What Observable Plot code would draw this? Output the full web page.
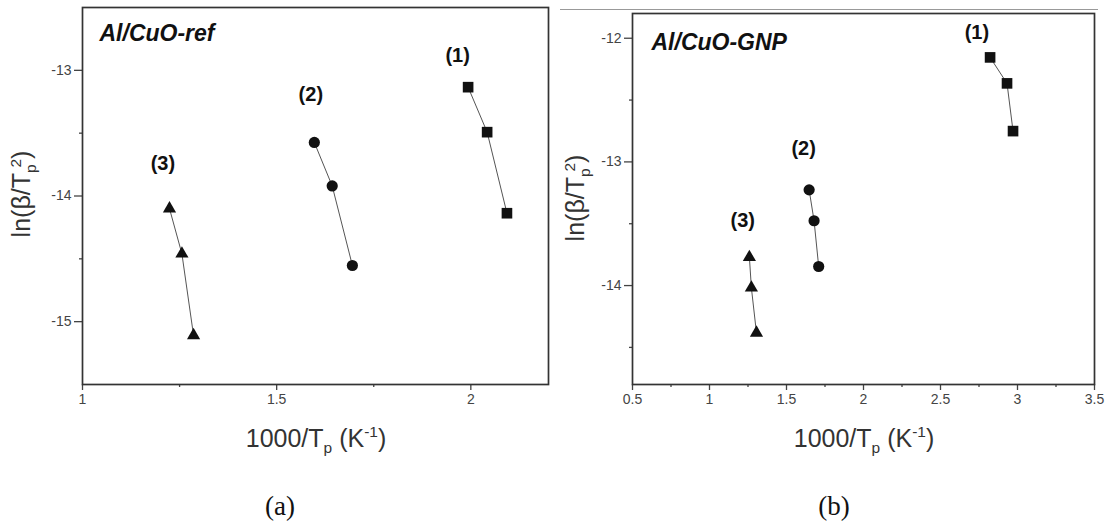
<!DOCTYPE html>
<html>
<head>
<meta charset="utf-8">
<script src="https://cdn.jsdelivr.net/npm/d3@7"></script>
<script src="https://cdn.jsdelivr.net/npm/@observablehq/plot@0.6"></script>
<style>
  html, body { margin: 0; padding: 0; background: #fff; }
  #root { position: relative; width: 1112px; height: 523px; overflow: hidden; background: #fff;
          font-family: "Liberation Sans", Arial, sans-serif; }
  .panel { position: absolute; top: 0; }
  #root svg g[aria-label*="tick label"], #root svg g[aria-label*="tick label"] text { font-size: 14px; }
  .axlab { position: absolute; font-size: 25px; color: #333; white-space: nowrap; line-height: 1; }
  .ylab { transform: translate(-50%, -50%) rotate(-90deg); }
  .xlab { transform: translate(-50%, -50%); }
  .cap { position: absolute; font-family: "Liberation Serif", "DejaVu Serif", serif; font-size: 27px;
         color: #111; transform: translate(-50%, -50%); line-height: 1; }
  .stack { display: inline-block; vertical-align: -0.38em; line-height: 0.95; font-size: 0.62em; text-align: left; }
  .stack span { display: block; }
  .stack span.sp { padding-left: 0.35em; }
  sub.s, sup.s { font-size: 0.62em; line-height: 0; }
  .topline { position: absolute; left: 560px; top: 9px; width: 538px; height: 1px; background: #999; }
</style>
</head>
<body>
<div id="root">
  <div class="topline"></div>
</div>
<script>
// ---------- data ----------
const seriesNames = ["(1)", "(2)", "(3)"];
const seriesSymbols = ["square", "circle", "triangle"];

// Panel (a): Al/CuO-ref
const titleA = "Al/CuO-ref";
const xA1 = [1.993, 2.042, 2.093];
const yA1 = [-13.134, -13.492, -14.137];
const xA2 = [1.597, 1.643, 1.695];
const yA2 = [-13.574, -13.920, -14.553];
const xA3 = [1.224, 1.256, 1.286];
const yA3 = [-14.10, -14.46, -15.11];
const labelXA = [1.966, 1.588, 1.207];
const labelYA = [-12.882, -13.192, -13.739];
const xDomainA = [1, 2.2];
const yDomainA = [-15.5, -12.5];
const xMajorA = [1, 1.5, 2];
const xMinorA = [1.25, 1.75];
const yMajorA = [-13, -14, -15];
const yMinorA = [-13.5, -14.5];

// Panel (b): Al/CuO-GNP
const titleB = "Al/CuO-GNP";
const xB1 = [2.822, 2.932, 2.971];
const yB1 = [-12.155, -12.365, -12.751];
const xB2 = [1.647, 1.679, 1.709];
const yB2 = [-13.226, -13.476, -13.846];
const xB3 = [1.259, 1.272, 1.305];
const yB3 = [-13.771, -14.018, -14.383];
const labelXB = [2.736, 1.611, 1.216];
const labelYB = [-11.951, -12.894, -13.474];
const xDomainB = [0.5, 3.5];
const yDomainB = [-14.8, -11.8];
const xMajorB = [0.5, 1, 1.5, 2, 2.5, 3, 3.5];
const xMinorB = [0.75, 1.25, 1.75, 2.25, 2.75, 3.25];
const yMajorB = [-12, -13, -14];
const yMinorB = [-12.5, -13.5, -14.5];

// ---------- helpers ----------
function toRows(xs, ys, name) { return xs.map((x, i) => ({x, y: ys[i], series: name})); }
const fmt = d => String(d);
const markerR = {square: 6.0, circle: 5.6, triangle: 4.9};

function panel(cfg) {
  const seriesData = cfg.series.map((s, i) => toRows(s[0], s[1], seriesNames[i]));
  const all = seriesData.flat();
  const labels = seriesNames.map((n, i) => ({x: cfg.labelX[i], y: cfg.labelY[i], t: n}));
  const tickStyle = {fontSize: 14, color: "#444", label: null, tickFormat: fmt, strokeWidth: 1.3};
  return Plot.plot({
    width: 556, height: 414,
    marginLeft: cfg.ml, marginRight: cfg.mr, marginTop: cfg.mt, marginBottom: 414 - cfg.bottom,
    style: {fontFamily: "Liberation Sans, Arial, sans-serif", fontSize: "14px", background: "transparent", overflow: "visible"},
    x: {domain: cfg.xDomain, label: null},
    y: {domain: cfg.yDomain, label: null},
    marks: [
      Plot.axisX({...tickStyle, ticks: cfg.xMajor, tickSize: 6, tickPadding: 4}),
      Plot.axisX({...tickStyle, ticks: cfg.xMinor, tickSize: 3, tickFormat: () => ""}),
      Plot.axisY({...tickStyle, ticks: cfg.yMajor, tickSize: 8, tickPadding: 3}),
      Plot.axisY({...tickStyle, ticks: cfg.yMinor, tickSize: 3, tickFormat: () => ""}),
      Plot.frame({stroke: "#333", strokeWidth: 1.7}),
      Plot.line(all, {x: "x", y: "y", z: "series", stroke: "#555", strokeWidth: 1}),
      ...seriesData.map((rows, i) => Plot.dot(rows, {
        x: "x", y: "y", symbol: () => seriesSymbols[i], fill: "#111", stroke: "none",
        r: markerR[seriesSymbols[i]]
      })),
      Plot.text(labels, {x: "x", y: "y", text: "t", fontSize: 20, fontWeight: "bold", fill: "#111"}),
      Plot.text([cfg.title], {text: d => d, frameAnchor: "top-left", dx: cfg.tdx, dy: cfg.tdy,
        textAnchor: "start", lineAnchor: "middle", fontSize: 23, fontWeight: "bold",
        fontStyle: "italic", fill: "#111"})
    ]
  });
}

const root = document.getElementById("root");

const svgA = panel({
  series: [[xA1, yA1], [xA2, yA2], [xA3, yA3]],
  labelX: labelXA, labelY: labelYA, title: titleA,
  xDomain: xDomainA, yDomain: yDomainA,
  xMajor: xMajorA, xMinor: xMinorA, yMajor: yMajorA, yMinor: yMinorA,
  ml: 82, mr: 8, mt: 7, bottom: 384, tdx: 17, tdy: 26
});
svgA.classList.add("panel");
svgA.style.left = "0px";
root.appendChild(svgA);

const svgB = panel({
  series: [[xB1, yB1], [xB2, yB2], [xB3, yB3]],
  labelX: labelXB, labelY: labelYB, title: titleB,
  xDomain: xDomainB, yDomain: yDomainB,
  xMajor: xMajorB, xMinor: xMinorB, yMajor: yMajorB, yMinor: yMinorB,
  ml: 76, mr: 18, mt: 13, bottom: 384, tdx: 19, tdy: 29
});
svgB.classList.add("panel");
svgB.style.left = "556px";
root.appendChild(svgB);

// axis titles and captions
const yLabelHTML = 'ln(β/T<span class="stack"><span class="sp">2</span><span>p</span></span>)';
const xLabelHTML = '1000/T<sub class="s">p</sub> (K<sup class="s">-1</sup>)';
function addDiv(cls, html, left, top) {
  const d = document.createElement("div");
  d.className = cls;
  d.innerHTML = html;
  d.style.left = left + "px";
  d.style.top = top + "px";
  root.appendChild(d);
}
addDiv("axlab ylab", yLabelHTML, 24, 194);
addDiv("axlab ylab", yLabelHTML, 578, 198);
addDiv("axlab xlab", xLabelHTML, 316, 438);
addDiv("axlab xlab", xLabelHTML, 864, 438);
addDiv("cap", "(a)", 280, 506);
addDiv("cap", "(b)", 834, 506);
</script>
</body>
</html>
